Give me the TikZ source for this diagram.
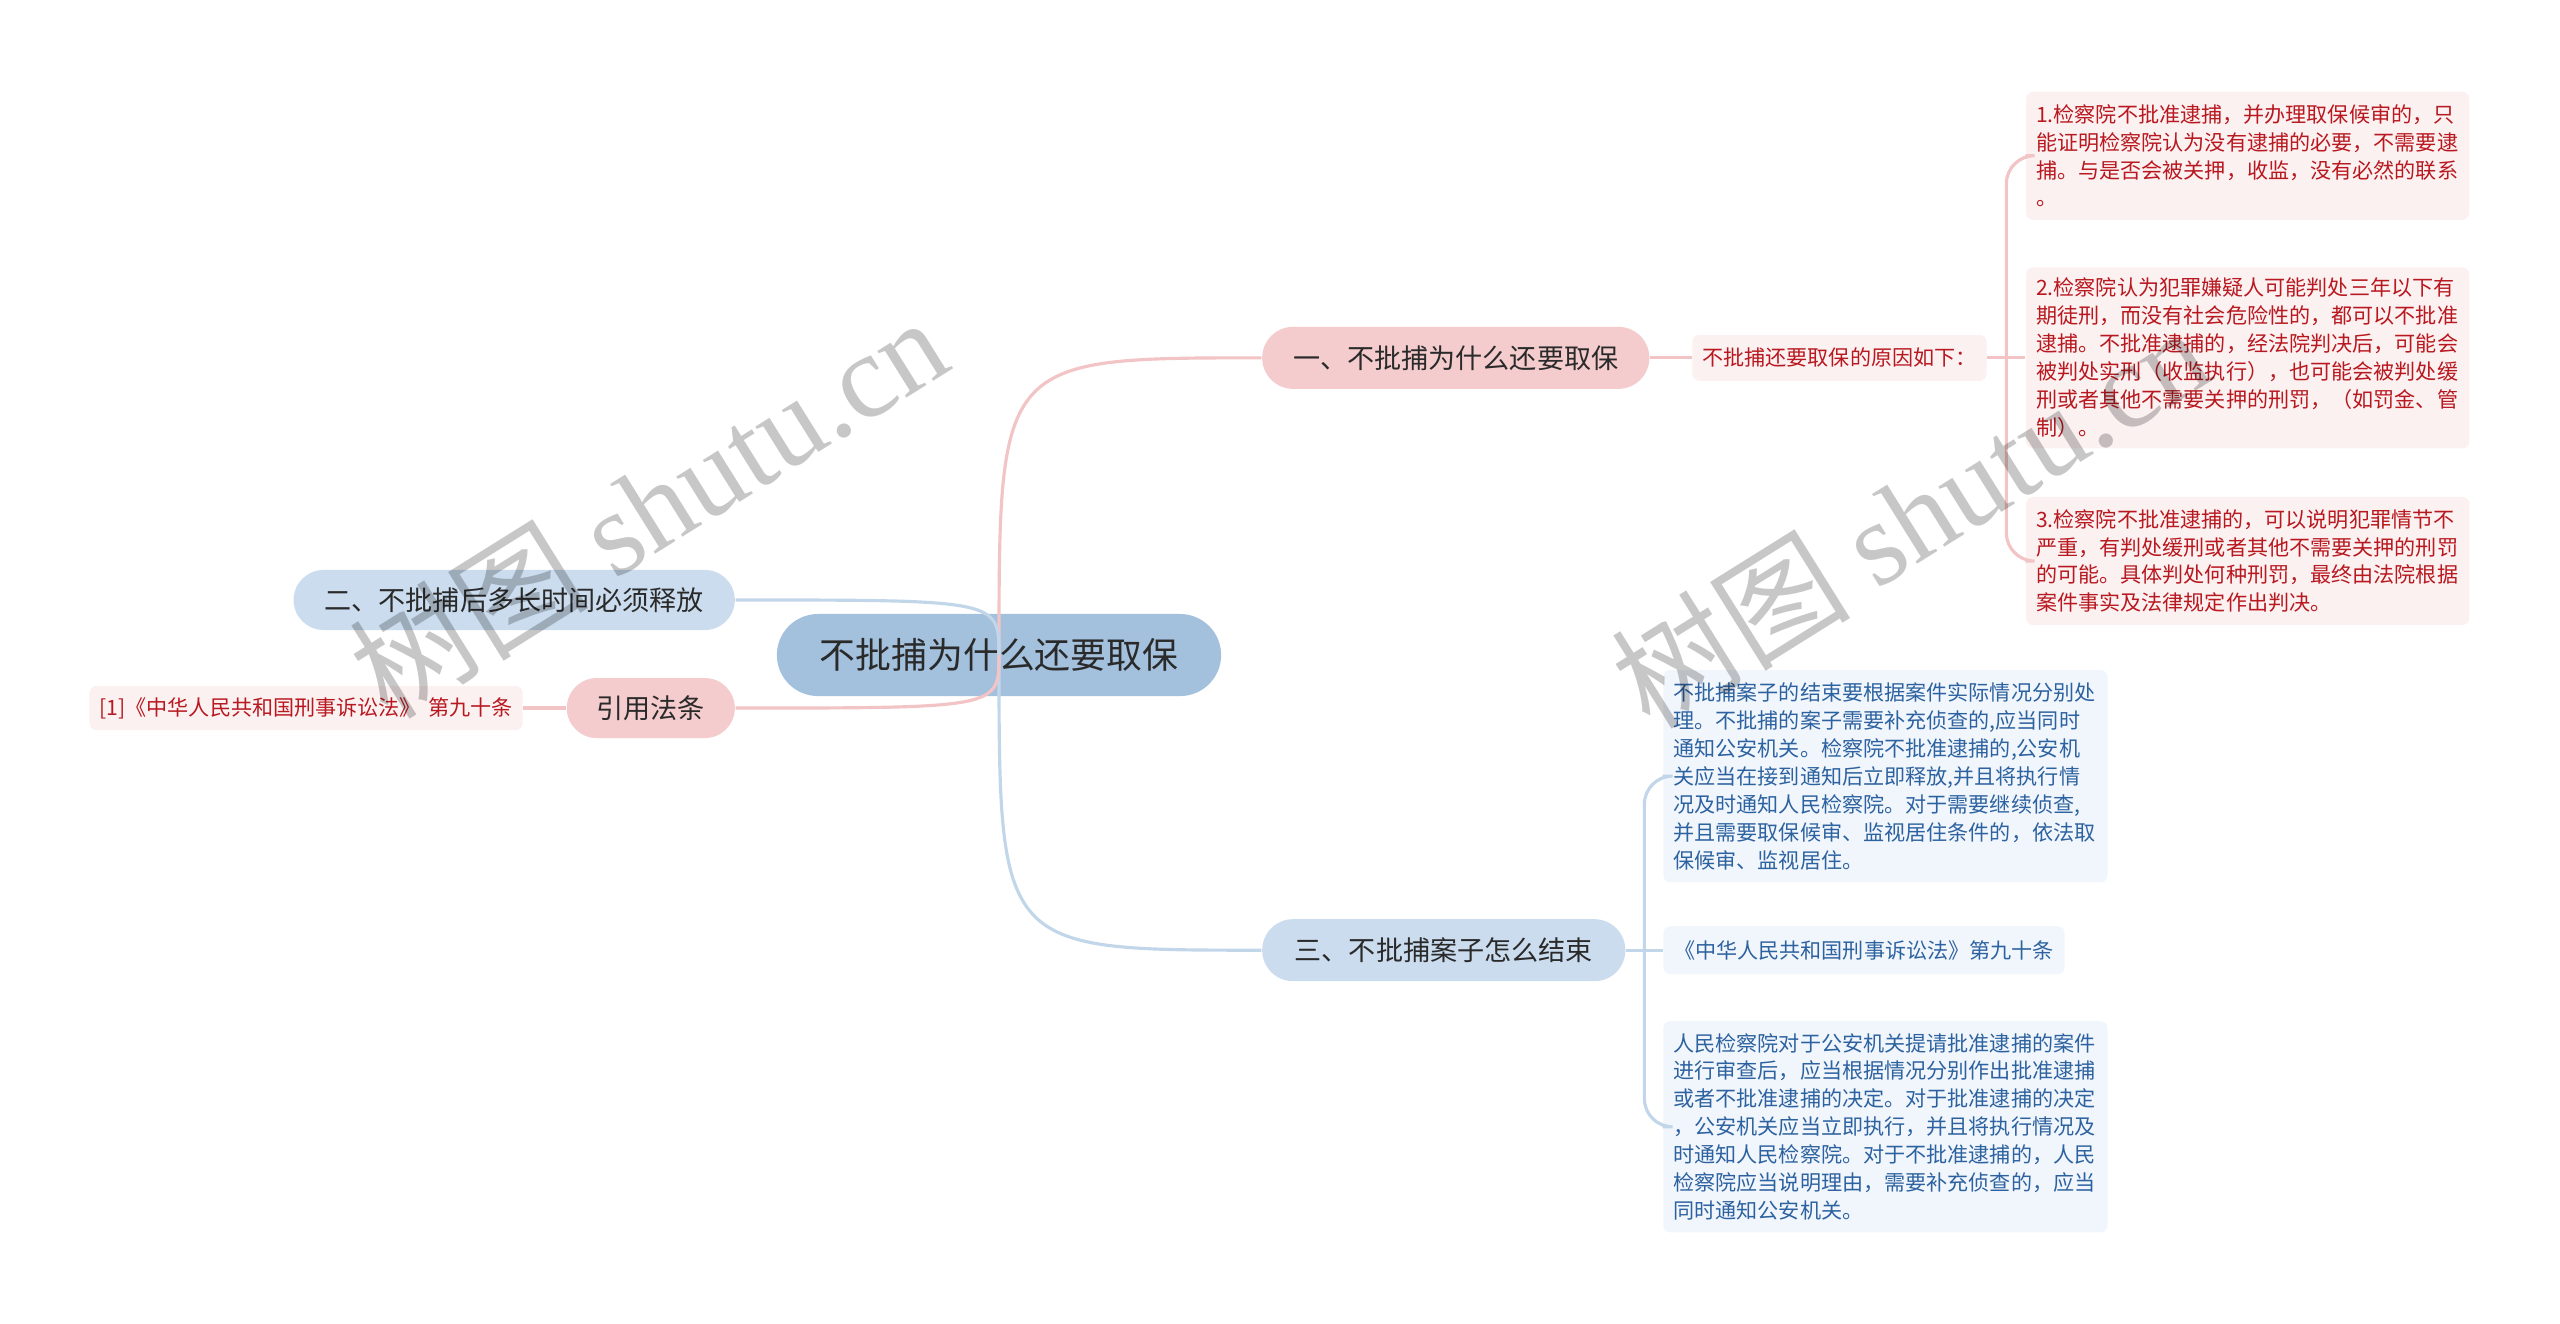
\documentclass[tikz,border=0pt]{standalone}
\usepackage{fontspec}
\setmainfont{Noto Sans CJK SC}
\newfontfamily\wmserif{Liberation Serif}
\usetikzlibrary{positioning,calc,shapes.misc}

\definecolor{rootblue}{HTML}{A3C0DD}
\definecolor{lightblue}{HTML}{CADCEE}
\definecolor{lightpink}{HTML}{F5CCCD}
\definecolor{leafpink}{HTML}{FCF1F1}
\definecolor{leafblue}{HTML}{F1F6FC}
\definecolor{textred}{HTML}{B8181F}
\definecolor{textblue}{HTML}{2D62A0}
\definecolor{linepink}{HTML}{F2C4C5}
\definecolor{lineblue}{HTML}{C2D6EA}
\definecolor{textdark}{HTML}{2A2A2A}

\begin{document}
\begin{tikzpicture}
    [x=0.01cm,y=-0.01cm,on grid,
    root node/.style={rounded rectangle,fill=rootblue,text=textdark,inner sep=0pt,
        minimum width=4.44cm,minimum height=0.82cm,font=\fontsize{10.2}{12}\selectfont},
    branch/.style={rounded rectangle,text=textdark,inner sep=0pt,minimum height=0.62cm,
        font=\fontsize{7.7}{9}\selectfont},
    pink branch/.style={branch,fill=lightpink},
    blue branch/.style={branch,fill=lightblue},
    leaf/.style={rounded corners=2pt,inner xsep=0.1cm,inner ysep=0pt,align=left,
        font=\fontsize{6}{7.95}\selectfont},
    pink leaf/.style={leaf,fill=leafpink,text=textred,text width=4.23cm},
    blue leaf/.style={leaf,fill=leafblue,text=textblue,text width=4.24cm},
    pink link/.style={draw=linepink,line width=0.9pt},
    blue link/.style={draw=lineblue,line width=0.9pt},
    watermark/.style={text=black,opacity=0.22,rotate=32,font=\fontsize{34}{40}\selectfont}]
    \fill[white] (0,0) rectangle (2560,1323);
    \useasboundingbox (0,0) rectangle (2560,1323);
    % 中心主题和四个分支
    \node [root node] (root) at (999,655) {不批捕为什么还要取保};
    \node [pink branch,minimum width=3.87cm] (b1) [above right=2.97cm and 4.565cm of root] {一、不批捕为什么还要取保};
    \node [blue branch,minimum width=3.63cm] (b3) [below right=2.95cm and 4.445cm of root] {三、不批捕案子怎么结束};
    \node [blue branch,minimum width=4.41cm,minimum height=0.6cm] (b2) [above left=0.55cm and 4.845cm of root] {二、不批捕后多长时间必须释放};
    \node [pink branch,minimum width=1.68cm,minimum height=0.6cm] (b4) [below left=0.53cm and 3.48cm of root] {引用法条};
    % 左侧引用法条
    \node [pink leaf,text width=4.13cm,align=center,minimum height=0.44cm] (ref) [left=3.445cm of b4] {[1]《中华人民共和国刑事诉讼法》 第九十条};
    % 第一分支的子节点
    \node [pink leaf,text width=2.76cm,inner xsep=0.09cm,align=center,minimum height=0.46cm] (sub) [right=3.835cm of b1] {不批捕还要取保的原因如下：};
    \node [pink leaf,minimum height=1.81cm] (lf2) [right=4.08cm of sub]
    {2.检察院认为犯罪嫌疑人可能判处三年以下有\\期徒刑，而没有社会危险性的，都可以不批准\\逮捕。不批准逮捕的，经法院判决后，可能会\\被判处实刑（收监执行），也可能会被判处缓\\刑或者其他不需要关押的刑罚，（如罚金、管\\制）。};
    \node [pink leaf,minimum height=1.28cm] (lf1) [above=2.02cm of lf2]
    {1.检察院不批准逮捕，并办理取保候审的，只\\能证明检察院认为没有逮捕的必要，不需要逮\\捕。与是否会被关押，收监，没有必然的联系\\。};
    \node [pink leaf,minimum height=1.28cm] (lf3) [below=2.03cm of lf2]
    {3.检察院不批准逮捕的，可以说明犯罪情节不\\严重，有判处缓刑或者其他不需要关押的刑罚\\的可能。具体判处何种刑罚，最终由法院根据\\案件事实及法律规定作出判决。};
    % 第三分支的子节点
    \node [blue leaf,text width=4.01cm,inner xsep=0pt,align=center,minimum height=0.48cm] (lB) [right=4.2cm of b3] {《中华人民共和国刑事诉讼法》第九十条};
    \node [blue leaf,minimum height=2.12cm] (lA) [above right=1.74cm and 0.215cm of lB]
    {不批捕案子的结束要根据案件实际情况分别处\\理。不批捕的案子需要补充侦查的,应当同时\\通知公安机关。检察院不批准逮捕的,公安机\\关应当在接到通知后立即释放,并且将执行情\\况及时通知人民检察院。对于需要继续侦查,\\并且需要取保候审、监视居住条件的，依法取\\保候审、监视居住。};
    \node [blue leaf,minimum height=2.11cm] (lC) [below right=1.765cm and 0.215cm of lB]
    {人民检察院对于公安机关提请批准逮捕的案件\\进行审查后，应当根据情况分别作出批准逮捕\\或者不批准逮捕的决定。对于批准逮捕的决定\\，公安机关应当立即执行，并且将执行情况及\\时通知人民检察院。对于不批准逮捕的，人民\\检察院应当说明理由，需要补充侦查的，应当\\同时通知公安机关。};
    % 连线
    \draw [pink link] (root.center) .. controls (root.center |- b1.west) .. (b1.west);
    \draw [blue link] (root.center) .. controls (root.center |- b3.west) .. (b3.west);
    \draw [blue link] (root.center) .. controls (root.center |- b2.east) .. (b2.east);
    \draw [pink link] (root.center) .. controls (root.center |- b4.east) .. (b4.east);
    \draw [pink link] (b4.west) -- (ref.east);
    \draw [pink link] (b1.east) -- (sub.west);
    \draw [pink link] (sub.east) -- (lf2.west);
    \coordinate (fk1) at ($(sub.east)!0.5!(lf2.west)$);
    \draw [pink link,rounded corners=8pt] (lf1.west) -| (fk1) |- (lf3.west);
    \draw [blue link] (b3.east) -- (lB.west);
    \coordinate (fk3) at ($(b3.east)!0.5!(lB.west)$);
    \draw [blue link,rounded corners=8pt] (lA.west) -| (fk3) |- (lC.west);
    % 水印
    \node [watermark] (wm1) at (648,506) {树图 {\wmserif shutu.cn}};
    \node [watermark] (wm2) at (1910,516) {树图 {\wmserif shutu.cn}};
\end{tikzpicture}
\end{document}
